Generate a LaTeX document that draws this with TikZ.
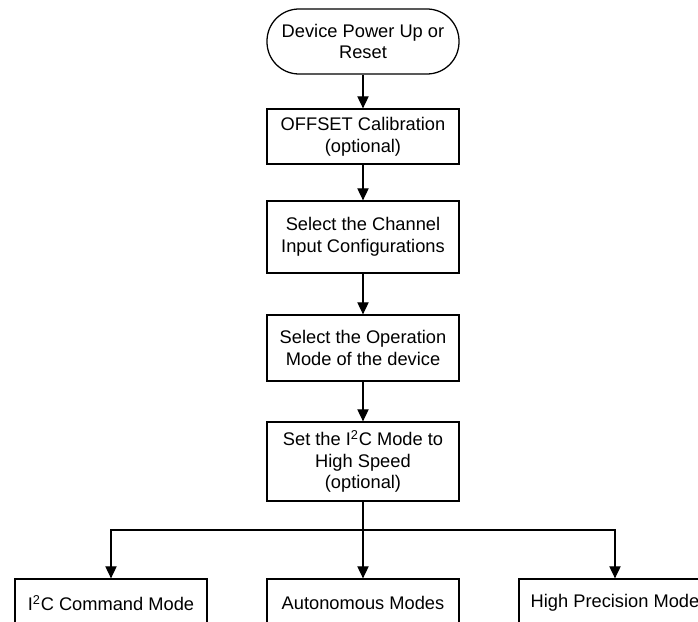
\documentclass[tikz,border=0pt]{standalone}
\usepackage{fontspec}
\setmainfont{Liberation Sans}
\usepackage{tikz}
\usetikzlibrary{arrows.meta}

\begin{document}
\begin{tikzpicture}[
        every node/.style={font=\fontsize{13}{15.4}\selectfont, align=center},
        flowbox/.style={draw, line width=0.9pt, minimum width=4.8cm, inner sep=0pt},
        startbox/.style={flowbox, rounded corners=0.8cm},
        flowarrow/.style={line width=0.9pt, -{Triangle[length=0.3cm, width=0.28cm]}},
    ]
        \useasboundingbox (0,0) rectangle (17.45,15.55);
        \clip (0,0) rectangle (17.45,15.55);
        \node[startbox, minimum height=1.625cm] (power_up) at (9.075,14.5125) {Device Power Up or\\Reset};
        \node[flowbox, minimum height=1.375cm] (offset) at (9.075,12.1375) {OFFSET Calibration\\(optional)};
        \node[flowbox, minimum height=1.8cm] (channel) at (9.075,9.625) {Select the Channel\\Input Configurations};
        \node[flowbox, minimum height=1.65cm] (op_mode) at (9.075,6.85) {Select the Operation\\Mode of the device};
        \node[flowbox, minimum height=1.975cm] (hs_mode) at (9.075,4.0125) {Set the I\textsuperscript{2}C Mode to\\High Speed\\(optional)};
        \node[flowbox, minimum height=1.2cm] (cmd_mode) at (2.775,0.475) {I\textsuperscript{2}C Command Mode};
        \node[flowbox, minimum height=1.2cm] (auto_mode) at (9.075,0.475) {Autonomous Modes};
        \node[flowbox, minimum height=1.2cm] (prec_mode) at (15.375,0.475) {High Precision Mode};
        \coordinate (split) at (9.075,2.3);
        \draw[flowarrow] (power_up) -- (offset);
        \draw[flowarrow] (offset) -- (channel);
        \draw[flowarrow] (channel) -- (op_mode);
        \draw[flowarrow] (op_mode) -- (hs_mode);
        \draw[line width=0.9pt] (hs_mode) -- (split);
        \draw[flowarrow] (split) -| (cmd_mode);
        \draw[flowarrow] (split) -- (auto_mode);
        \draw[flowarrow] (split) -| (prec_mode);
        \end{tikzpicture}
\end{document}
